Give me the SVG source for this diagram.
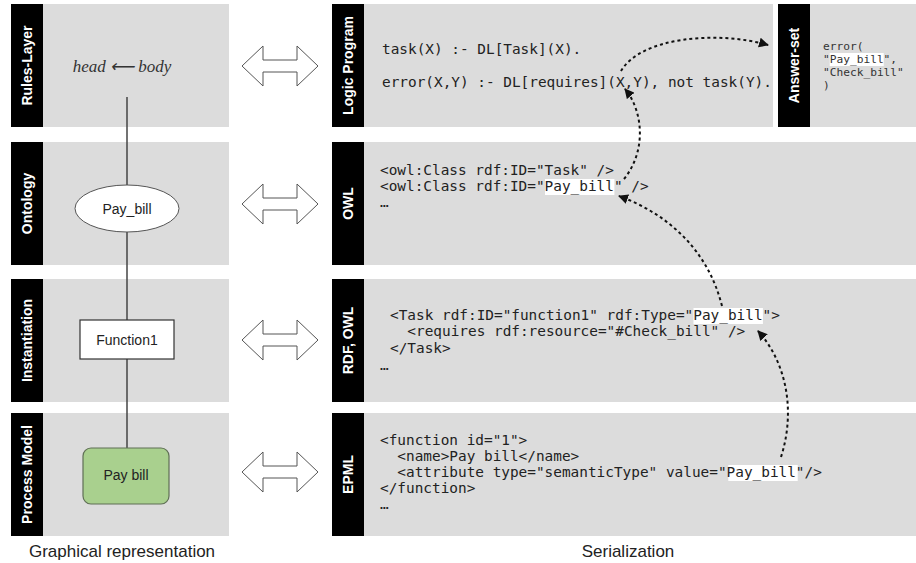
<svg xmlns="http://www.w3.org/2000/svg" width="916" height="563" viewBox="0 0 916 563">
  <style>
    .panel { fill: #dcdcdc; }
    .strip { fill: #000; }
    .strip-label { fill: #fff; font-family: "Liberation Sans", Arial, sans-serif; font-weight: bold; font-size: 14px; text-anchor: middle; dominant-baseline: central; }
    .code { fill: #222; font-family: "DejaVu Sans Mono", "Liberation Mono", monospace; font-size: 14.4px; white-space: pre; }
    .code-sm { fill: #333; font-family: "DejaVu Sans Mono", "Liberation Mono", monospace; font-size: 11.2px; white-space: pre; }
    .hl { fill: #fff; }
    .node-label { fill: #222; font-family: "Liberation Sans", Arial, sans-serif; font-size: 14px; text-anchor: middle; dominant-baseline: central; }
    .caption { fill: #222; font-family: "Liberation Sans", Arial, sans-serif; font-size: 17px; text-anchor: middle; }
    .link { stroke: #444; stroke-width: 1.5; fill: none; }
    .ref { stroke: #111; stroke-width: 2; stroke-dasharray: 3 3; fill: none; marker-end: url(#tip); }
    .dbl { fill: #fff; stroke: #555; stroke-width: 1; }
  </style>
  <defs>
    <marker id="tip" markerWidth="10" markerHeight="10" refX="9" refY="5" orient="auto" markerUnits="userSpaceOnUse">
      <path d="M0,0 L10,5 L0,10 Z" fill="#111"/>
    </marker>
    <path id="dblarrow" class="dbl" d="M-38,0 L-17,-20 L-17,-6 L17,-6 L17,-20 L38,0 L17,20 L17,6 L-17,6 L-17,20 Z"/>
  </defs>

  <!-- Graphical representation column -->
  <g id="rules-layer">
    <rect class="strip" x="11" y="4" width="32" height="123"/>
    <rect class="panel" x="43" y="4" width="186" height="123"/>
    <text class="strip-label" transform="translate(27,65.5) rotate(-90)">Rules-Layer</text>
    <text x="122" y="72" font-family="'Liberation Serif', 'Times New Roman', serif" font-style="italic" font-size="17" fill="#333" text-anchor="middle">head ⟵ body</text>
  </g>
  <g id="ontology">
    <rect class="strip" x="11" y="142" width="32" height="123"/>
    <rect class="panel" x="43" y="142" width="186" height="123"/>
    <text class="strip-label" transform="translate(27,203.5) rotate(-90)">Ontology</text>
  </g>
  <g id="instantiation">
    <rect class="strip" x="11" y="279" width="32" height="123"/>
    <rect class="panel" x="43" y="279" width="186" height="123"/>
    <text class="strip-label" transform="translate(27,340.5) rotate(-90)">Instantiation</text>
  </g>
  <g id="process-model">
    <rect class="strip" x="11" y="413" width="32" height="123"/>
    <rect class="panel" x="43" y="413" width="186" height="123"/>
    <text class="strip-label" transform="translate(27,474.5) rotate(-90)">Process Model</text>
  </g>

  <!-- vertical links between the model elements -->
  <g id="connectors">
    <line class="link" x1="127" y1="97" x2="127" y2="185"/>
    <line class="link" x1="127" y1="232" x2="127" y2="320"/>
    <line class="link" x1="127" y1="359" x2="127" y2="448"/>
  </g>

  <g id="pay-bill-class">
    <ellipse cx="127" cy="208.5" rx="52" ry="23.5" fill="#fff" stroke="#555" stroke-width="1"/>
    <text class="node-label" x="127" y="208.5">Pay_bill</text>
  </g>
  <g id="function1">
    <rect x="80" y="320" width="94" height="39" fill="#fff" stroke="#333" stroke-width="1.2"/>
    <text class="node-label" x="127" y="339.5">Function1</text>
  </g>
  <g id="pay-bill-function">
    <rect x="83" y="448" width="86" height="56" rx="8" fill="#a9d08e" stroke="#5f6f55" stroke-width="1.2"/>
    <text class="node-label" x="126" y="475">Pay bill</text>
  </g>

  <!-- two-way correspondences -->
  <g id="mappings">
    <use href="#dblarrow" transform="translate(280,66)"/>
    <use href="#dblarrow" transform="translate(280,204)"/>
    <use href="#dblarrow" transform="translate(280,340)"/>
    <use href="#dblarrow" transform="translate(280,472)"/>
  </g>

  <!-- Serialization column -->
  <g id="logic-program">
    <rect class="strip" x="332" y="4" width="32" height="123"/>
    <rect class="panel" x="364" y="4" width="409" height="123"/>
    <text class="strip-label" transform="translate(348,65.5) rotate(-90)">Logic Program</text>
    <text class="code" x="382" y="54" font-size="14">task(X) :- DL[Task](X).</text>
    <text class="code" x="382" y="87" font-size="14">error(X,Y) :- DL[requires](X,Y), not task(Y).</text>
  </g>
  <g id="answer-set">
    <rect class="strip" x="778" y="4" width="32" height="123"/>
    <rect class="panel" x="810" y="4" width="106" height="123"/>
    <text class="strip-label" transform="translate(794,65.5) rotate(-90)">Answer-set</text>
    <rect class="hl" x="829.7" y="53" width="54" height="13"/>
    <text class="code-sm" x="823" y="50">error(</text>
    <text class="code-sm" x="823" y="63">"Pay_bill",</text>
    <text class="code-sm" x="823" y="76">"Check_bill"</text>
    <text class="code-sm" x="823" y="89">)</text>
  </g>
  <g id="owl">
    <rect class="strip" x="332" y="142" width="32" height="123"/>
    <rect class="panel" x="364" y="142" width="552" height="123"/>
    <text class="strip-label" transform="translate(348,203.5) rotate(-90)">OWL</text>
    <rect class="hl" x="545" y="179" width="69.4" height="16"/>
    <text class="code" x="380" y="175">&lt;owl:Class rdf:ID="Task" /&gt;</text>
    <text class="code" x="380" y="191">&lt;owl:Class rdf:ID="Pay_bill" /&gt;</text>
    <text class="code" x="380" y="207">…</text>
  </g>
  <g id="rdf-owl">
    <rect class="strip" x="332" y="279" width="32" height="123"/>
    <rect class="panel" x="364" y="279" width="552" height="123"/>
    <text class="strip-label" transform="translate(348,340.5) rotate(-90)">RDF, OWL</text>
    <rect class="hl" x="693.5" y="308" width="69.4" height="16"/>
    <text class="code" x="390" y="320">&lt;Task rdf:ID="function1" rdf:Type="Pay_bill"&gt;</text>
    <text class="code" x="390" y="336">  &lt;requires rdf:resource="#Check_bill" /&gt;</text>
    <text class="code" x="390" y="353">&lt;/Task&gt;</text>
    <text class="code" x="380" y="370">…</text>
  </g>
  <g id="epml">
    <rect class="strip" x="332" y="413" width="32" height="123"/>
    <rect class="panel" x="364" y="413" width="552" height="123"/>
    <text class="strip-label" transform="translate(348,474.5) rotate(-90)">EPML</text>
    <rect class="hl" x="728.3" y="465" width="69.4" height="16"/>
    <text class="code" x="380" y="445">&lt;function id="1"&gt;</text>
    <text class="code" x="380" y="461">  &lt;name&gt;Pay bill&lt;/name&gt;</text>
    <text class="code" x="380" y="477">  &lt;attribute type="semanticType" value="Pay_bill"/&gt;</text>
    <text class="code" x="380" y="493">&lt;/function&gt;</text>
    <text class="code" x="380" y="509">…</text>
  </g>

  <!-- dotted reference chain -->
  <g id="references">
    <path class="ref" d="M621,71 C640,38 715,30 768,45"/>
    <path class="ref" d="M624,179 C646,152 644,112 625,89"/>
    <path class="ref" d="M722,306 C708,250 668,214 619,196"/>
    <path class="ref" d="M781,457 C796,410 786,362 758,331"/>
  </g>

  <text class="caption" x="122" y="557">Graphical representation</text>
  <text class="caption" x="628" y="557">Serialization</text>
</svg>
